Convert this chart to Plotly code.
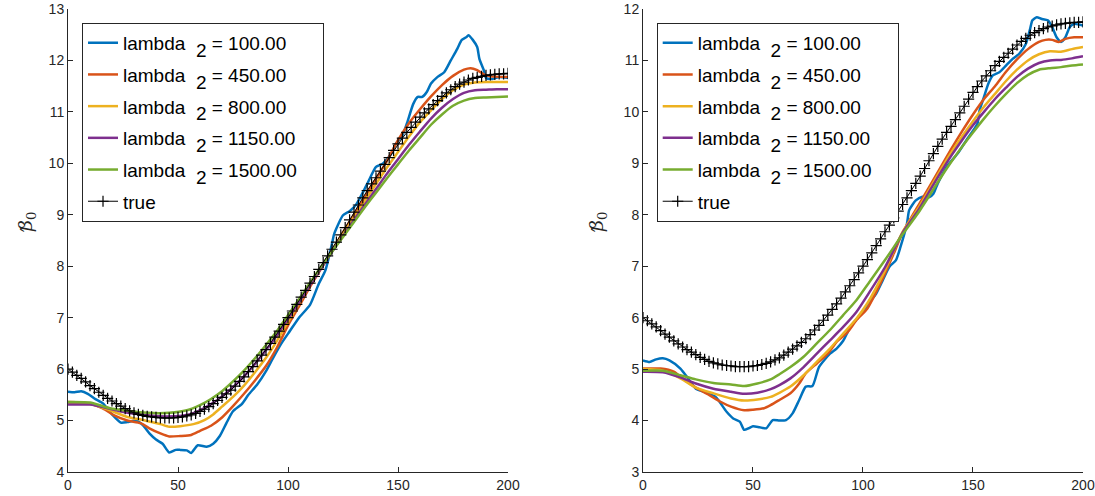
import plotly.graph_objects as go

# ---------------- data ----------------
lambda_labels = ["100.00", "450.00", "800.00", "1150.00", "1500.00"]
colors = ["#0072BD", "#D95319", "#EDB120", "#7E2F8E", "#77AC30"]

true_x = list(range(0, 201, 2))
true_vals = [6.00, 5.94, 5.88, 5.82, 5.75, 5.68, 5.62, 5.55, 5.49, 5.43,
             5.38, 5.33, 5.28, 5.23, 5.19, 5.15, 5.12, 5.10, 5.08, 5.07,
             5.06, 5.05, 5.05, 5.05, 5.05, 5.06, 5.07, 5.09, 5.11, 5.14,
             5.18, 5.22, 5.27, 5.33, 5.39, 5.45, 5.52, 5.59, 5.67, 5.76,
             5.85, 5.95, 6.05, 6.16, 6.27, 6.38, 6.50, 6.62, 6.74, 6.87,
             7.00, 7.13, 7.26, 7.40, 7.53, 7.67, 7.80, 7.94, 8.07, 8.20,
             8.33, 8.47, 8.61, 8.75, 8.90, 9.05, 9.19, 9.33, 9.47, 9.60,
             9.72, 9.85, 9.98, 10.11, 10.25, 10.38, 10.49, 10.60, 10.70, 10.80,
             10.90, 10.98, 11.06, 11.14, 11.22, 11.30, 11.37, 11.43, 11.49, 11.54,
             11.58, 11.62, 11.65, 11.67, 11.69, 11.71, 11.72, 11.73, 11.74, 11.74,
             11.75]

# ----- left panel -----
L_blue_x = [0, 3, 6, 9, 12, 16, 20, 24, 27, 31, 34, 37, 40, 43, 46, 49, 51, 54, 56, 59,
            63, 66, 69, 72, 75, 79, 82, 86, 90, 93, 97, 101, 105, 110, 114, 117, 120, 121, 125, 128,
            131, 136, 140, 143, 147, 149, 152, 154, 157, 159, 161, 163, 165, 168, 171, 174, 177, 179, 181, 182,
            184, 186, 187, 189, 190, 193, 196, 200]
L_blue_y = [5.56, 5.55, 5.57, 5.52, 5.43, 5.33, 5.12, 4.96, 4.97, 5.00, 4.91, 4.75, 4.63, 4.55, 4.38, 4.43, 4.43, 4.42, 4.37, 4.52,
            4.49, 4.55, 4.70, 4.95, 5.18, 5.32, 5.50, 5.70, 5.96, 6.20, 6.50, 6.75, 7.00, 7.25, 7.66, 7.92, 8.44, 8.63, 8.99, 9.07,
            9.20, 9.60, 9.93, 9.99, 10.19, 10.38, 10.54, 10.77, 11.16, 11.29, 11.29, 11.38, 11.55, 11.68, 11.77, 12.00, 12.23, 12.40, 12.45, 12.49,
            12.40, 12.26, 12.03, 11.81, 11.66, 11.64, 11.68, 11.66]

L_orange_x = [0, 10, 16, 21, 27, 33, 37, 42, 46, 51, 56, 60, 65, 70, 75, 80, 85, 90, 95, 100,
              105, 110, 115, 120, 125, 130, 135, 140, 145, 150, 155, 160, 165, 170, 175, 180,
              183, 186, 189, 192, 200]
L_orange_y = [5.36, 5.33, 5.23, 5.10, 5.00, 4.95, 4.85, 4.75, 4.69, 4.70, 4.72, 4.80, 4.90, 5.06, 5.28, 5.52, 5.78, 6.06, 6.42, 6.85,
              7.22, 7.60, 7.95, 8.30, 8.66, 9.00, 9.35, 9.70, 10.05, 10.45, 10.78, 11.05, 11.30, 11.52, 11.70, 11.82,
              11.85, 11.81, 11.73, 11.69, 11.68]

L_yellow_x = [0, 10, 19, 27, 34, 42, 46, 51, 57, 62, 66, 70, 75, 80, 85, 90, 95, 100, 105, 110,
              115, 120, 125, 130, 135, 140, 145, 150, 155, 160, 165, 170, 175, 180, 185, 190, 195, 200]
L_yellow_y = [5.33, 5.32, 5.20, 5.07, 5.01, 4.93, 4.88, 4.89, 4.93, 5.01, 5.12, 5.27, 5.46, 5.68, 5.94, 6.22, 6.55, 6.92, 7.28, 7.63,
              7.97, 8.30, 8.63, 8.95, 9.27, 9.60, 9.92, 10.22, 10.52, 10.80, 11.03, 11.25, 11.42, 11.53, 11.57, 11.58, 11.58, 11.58]

L_purple_x = [0, 10, 20, 27, 35, 46, 55, 60, 65, 70, 75, 80, 85, 90, 95, 100, 105, 110, 115, 120,
              125, 130, 135, 140, 145, 150, 155, 160, 165, 170, 175, 180, 185, 190, 195, 200]
L_purple_y = [5.31, 5.31, 5.22, 5.15, 5.11, 5.08, 5.12, 5.20, 5.32, 5.47, 5.65, 5.86, 6.10, 6.37, 6.66, 6.98, 7.30, 7.63, 7.96, 8.28,
              8.59, 8.90, 9.20, 9.50, 9.80, 10.08, 10.36, 10.62, 10.87, 11.08, 11.25, 11.37, 11.42, 11.43, 11.44, 11.44]

L_green_x = [0, 10, 19, 27, 36, 46, 54, 60, 65, 70, 75, 80, 85, 90, 95, 100, 105, 110, 115, 120,
             125, 130, 135, 140, 145, 150, 155, 160, 165, 170, 175, 180, 185, 190, 195, 200]
L_green_y = [5.36, 5.35, 5.24, 5.19, 5.15, 5.15, 5.20, 5.30, 5.42, 5.57, 5.76, 5.97, 6.21, 6.47, 6.74, 7.05, 7.36, 7.68, 7.99, 8.28,
             8.57, 8.86, 9.15, 9.43, 9.71, 9.98, 10.25, 10.50, 10.75, 10.95, 11.12, 11.22, 11.27, 11.28, 11.29, 11.30]

# ----- right panel -----
R_blue_x = [0, 3, 6, 9, 12, 17, 21, 24, 29, 33, 38, 41, 44, 46, 48, 50, 53, 56, 59, 62,
            65, 68, 71, 74, 77, 80, 85, 88, 91, 94, 98, 103, 106, 109, 112, 115, 117, 120, 121, 124,
            127, 130, 132, 134, 138, 143, 147, 152, 153, 155, 157, 159, 162, 165, 168, 171, 174, 176, 177, 179,
            181, 184, 186, 188, 190, 192, 194, 196, 200]
R_blue_y = [5.17, 5.14, 5.19, 5.21, 5.17, 5.01, 4.79, 4.62, 4.54, 4.46, 4.17, 4.04, 3.98, 3.82, 3.85, 3.89, 3.87, 3.85, 4.01, 4.00,
            4.01, 4.14, 4.40, 4.66, 4.67, 5.04, 5.30, 5.40, 5.55, 5.80, 6.02, 6.30, 6.47, 6.73, 6.99, 7.12, 7.37, 7.83, 8.09, 8.28,
            8.35, 8.34, 8.41, 8.61, 8.93, 9.19, 9.45, 9.77, 10.03, 10.29, 10.55, 10.71, 10.77, 10.90, 11.03, 11.13, 11.32, 11.62, 11.78, 11.84,
            11.81, 11.78, 11.65, 11.45, 11.36, 11.45, 11.65, 11.71, 11.68]

R_orange_x = [0, 8, 14, 18, 24, 30, 35, 40, 46, 50, 55, 58, 62, 67, 71, 74, 79, 84, 88, 93,
              97, 102, 106, 110, 114, 118, 125, 130, 135, 140, 145, 150, 155, 160, 165, 170, 175, 180,
              183, 186, 189, 192, 196, 200]
R_orange_y = [5.01, 5.01, 4.95, 4.82, 4.64, 4.50, 4.37, 4.27, 4.20, 4.21, 4.24, 4.30, 4.40, 4.53, 4.72, 4.92, 5.11, 5.30, 5.53, 5.72,
              5.95, 6.18, 6.50, 6.86, 7.25, 7.65, 8.17, 8.53, 8.90, 9.27, 9.62, 9.95, 10.25, 10.50, 10.78, 11.02, 11.22, 11.36,
              11.40, 11.40, 11.36, 11.42, 11.45, 11.45]

R_yellow_x = [0, 9, 17, 24, 32, 40, 46, 52, 58, 62, 67, 73, 79, 85, 91, 97, 102, 110, 118, 125,
              130, 135, 140, 145, 150, 155, 160, 165, 170, 175, 180, 185, 190, 195, 200]
R_yellow_y = [5.00, 4.97, 4.82, 4.64, 4.53, 4.43, 4.39, 4.41, 4.46, 4.54, 4.66, 4.88, 5.14, 5.40, 5.69, 5.98, 6.28, 6.92, 7.67, 8.12,
              8.48, 8.85, 9.20, 9.52, 9.82, 10.10, 10.35, 10.60, 10.82, 11.00, 11.12, 11.18, 11.17, 11.22, 11.26]

R_purple_x = [0, 9, 17, 24, 32, 40, 46, 52, 58, 62, 67, 73, 79, 85, 91, 97, 103, 110, 118, 125,
              130, 135, 140, 145, 150, 155, 160, 165, 170, 175, 180, 185, 190, 195, 200]
R_purple_y = [4.95, 4.94, 4.84, 4.72, 4.62, 4.56, 4.52, 4.54, 4.61, 4.69, 4.82, 5.04, 5.30, 5.56, 5.82, 6.11, 6.50, 6.98, 7.65, 8.08,
              8.44, 8.80, 9.14, 9.45, 9.74, 10.00, 10.25, 10.47, 10.68, 10.84, 10.95, 11.00, 11.01, 11.04, 11.08]

R_green_x = [0, 9, 17, 24, 32, 40, 46, 52, 58, 62, 67, 73, 79, 85, 91, 97, 103, 110, 118, 125,
             130, 135, 140, 145, 150, 155, 160, 165, 170, 175, 180, 185, 190, 195, 200]
R_green_y = [4.97, 4.97, 4.88, 4.80, 4.73, 4.70, 4.67, 4.72, 4.80, 4.90, 5.04, 5.24, 5.50, 5.76, 6.05, 6.34, 6.70, 7.12, 7.62, 8.03,
             8.36, 8.70, 9.02, 9.32, 9.60, 9.87, 10.12, 10.35, 10.56, 10.72, 10.82, 10.85, 10.87, 10.90, 10.92]

x_ticks = [0, 50, 100, 150, 200]
left_y_ticks = [4, 5, 6, 7, 8, 9, 10, 11, 12, 13]
right_y_ticks = [3, 4, 5, 6, 7, 8, 9, 10, 11, 12]

left_series = [(L_blue_x, L_blue_y), (L_orange_x, L_orange_y), (L_yellow_x, L_yellow_y),
               (L_purple_x, L_purple_y), (L_green_x, L_green_y)]
right_series = [(R_blue_x, R_blue_y), (R_orange_x, R_orange_y), (R_yellow_x, R_yellow_y),
                (R_purple_x, R_purple_y), (R_green_x, R_green_y)]

# ---------------- figure ----------------
fig = go.Figure()
AX = "#262626"
NB = "\u00a0"
SUB = '<sub><sub><span style="font-size:19px">2</span></sub></sub>'

for panel, (series, xa, ya, lg) in enumerate([(left_series, "x", "y", "legend"),
                                               (right_series, "x2", "y2", "legend2")]):
    for i, (sx, sy) in enumerate(series):
        fig.add_trace(go.Scatter(
            x=sx, y=sy, mode="lines", xaxis=xa, yaxis=ya, legend=lg,
            legendgroup=f"p{panel}s{i}",
            line=dict(color=colors[i], width=2.5, shape="spline", smoothing=0.6),
            name="lambda" + NB * 2 + SUB + NB + "= " + lambda_labels[i] + NB * 4))
    fig.add_trace(go.Scatter(
        x=true_x, y=true_vals, mode="lines+markers", xaxis=xa, yaxis=ya, legend=lg,
        legendgroup=f"p{panel}true",
        line=dict(color="black", width=1),
        marker=dict(symbol="cross-thin", size=8, line=dict(color="black", width=1.2), color="black"),
        name="true"))

axis_common = dict(showline=True, linecolor=AX, linewidth=1, ticks="inside", ticklen=5,
                   tickcolor=AX, tickfont=dict(family="Liberation Sans, Arial", size=14, color=AX),
                   showgrid=False, zeroline=False, mirror=False, automargin=False)

legend_common = dict(bgcolor="white", bordercolor=AX, borderwidth=1,
                     font=dict(family="Liberation Sans, Arial", size=19, color="black"),
                     xanchor="left", yanchor="top", xref="paper", yref="paper",
                     tracegroupgap=4, itemwidth=30)

fig.update_layout(
    width=1095, height=496,
    margin=dict(l=68, r=12, t=9, b=24, autoexpand=False),
    paper_bgcolor="white", plot_bgcolor="white",
    xaxis=dict(domain=[0, 0.4335], range=[0, 200], tickvals=x_ticks, anchor="y", **axis_common),
    yaxis=dict(domain=[0, 1], range=[4, 13], tickvals=left_y_ticks, anchor="x", **axis_common),
    xaxis2=dict(domain=[0.5665, 1.0], range=[0, 200], tickvals=x_ticks, anchor="y2", **axis_common),
    yaxis2=dict(domain=[0, 1], range=[3, 12], tickvals=right_y_ticks, anchor="x2", **axis_common),
    legend=dict(x=0.0138, y=0.97, **legend_common),
    legend2=dict(x=0.580, y=0.97, **legend_common),
    showlegend=True,
)

# y-axis titles: beta-hat with subscript 0 (rotated)
for px in [26, 597]:
    xp = (px - 68) / 1015
    fig.add_annotation(x=xp, y=(472 - 222) / 463, xref="paper", yref="paper", showarrow=False,
                       xanchor="center", yanchor="middle",
                       text="<i>β</i><sub>0</sub>", textangle=-90,
                       font=dict(family="DejaVu Serif, Liberation Serif, serif", size=19, color=AX))
    fig.add_annotation(x=(px + 4 - 68) / 1015, y=(472 - 229) / 463, xref="paper", yref="paper",
                       showarrow=False, xanchor="center", yanchor="middle",
                       text="ˆ", textangle=-90,
                       font=dict(family="DejaVu Serif, Liberation Serif, serif", size=20, color=AX))

fig.write_html("out.html")
